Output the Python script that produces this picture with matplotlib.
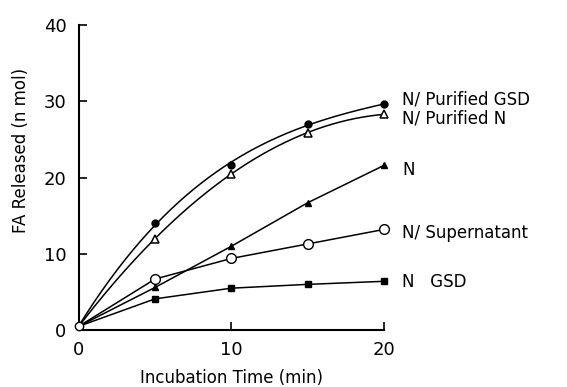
import numpy as np
import matplotlib
matplotlib.use('Agg')
import matplotlib.pyplot as plt

plt.rcParams['font.family'] = ['Liberation Sans Narrow', 'DejaVu Sans']

# Data
time = [0, 5, 10, 15, 20]
purified_gsd = [0.5, 14.0, 21.7, 27.1, 29.6]
purified_n = [0.5, 12.0, 20.5, 25.9, 28.3]
n_only = [0.5, 5.6, 11.0, 16.7, 21.6]
supernatant = [0.5, 6.7, 9.4, 11.3, 13.2]
gsd = [0.5, 4.1, 5.5, 6.0, 6.4]

labels = ['N/ Purified GSD', 'N/ Purified N', 'N', 'N/ Supernatant', 'N   GSD']
label_y = [30.3, 27.8, 21.0, 12.7, 6.3]

fig = plt.figure(figsize=(5.67, 3.87), dpi=100)
ax = fig.add_axes([0.139, 0.147, 0.538, 0.788])

# smooth fitted curves for the two purified series
xs = np.linspace(0, 20, 200)
for ys in (purified_gsd, purified_n):
    p = np.polyfit(time, ys, 3)
    ax.plot(xs, np.polyval(p, xs), color='black', lw=1.1, clip_on=False)

ax.plot(time, n_only, color='black', lw=1.1, clip_on=False)
ax.plot(time, supernatant, color='black', lw=1.1, clip_on=False)
ax.plot(time, gsd, color='black', lw=1.1, clip_on=False)

ax.plot(time[1:], purified_gsd[1:], 'o', ms=5, color='black', clip_on=False)
ax.plot(time[1:], purified_n[1:], '^', ms=6, mfc='white', mec='black', mew=1.1, clip_on=False)
ax.plot(time[1:], n_only[1:], '^', ms=5, color='black', clip_on=False)
ax.plot(time[1:], supernatant[1:], 'o', ms=7, mfc='white', mec='black', mew=1.0, clip_on=False)
ax.plot(time[1:], gsd[1:], 's', ms=5, color='black', clip_on=False)
ax.plot(time[0], purified_gsd[0], 'o', ms=6, mfc='white', mec='black', mew=1.0, clip_on=False, zorder=5)

for lab, ly in zip(labels, label_y):
    ax.text(21.2, ly, lab, fontsize=12, va='center', ha='left', clip_on=False)

ax.set_xlim(0, 20)
ax.set_ylim(0, 40)
ax.set_xticks([0, 10, 20])
ax.set_yticks([0, 10, 20, 30, 40])
ax.spines['top'].set_visible(False)
ax.spines['right'].set_visible(False)
ax.spines['left'].set_linewidth(1.5)
ax.spines['bottom'].set_linewidth(1.5)
ax.tick_params(direction='in', length=6, width=1.2, labelsize=13)
ax.tick_params(axis='x', pad=8)
ax.tick_params(axis='y', pad=9)
ax.set_xlabel('Incubation Time (min)', fontsize=12, labelpad=7)
ax.set_ylabel('FA Released (n mol)', fontsize=12)
ax.yaxis.set_label_coords(-0.16, 0.59)

fig.savefig('out.png', dpi=100)
